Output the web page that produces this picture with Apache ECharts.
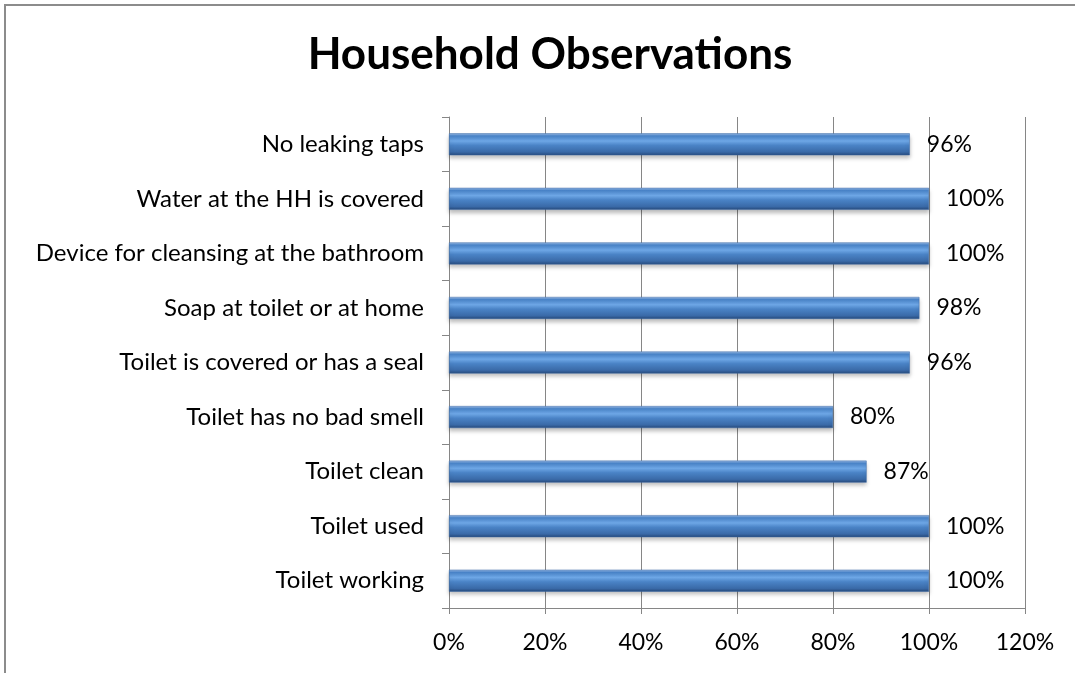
<!DOCTYPE html>
<html>
<head>
<meta charset="utf-8">
<script src="https://cdn.jsdelivr.net/npm/echarts@6/dist/echarts.min.js"></script>
<style>
  html, body { margin: 0; padding: 0; background: #fff; }
  #bar-chart { width: 1075px; height: 673px; }
</style>
</head>
<body>
<div id="bar-chart"></div>
<script>
// top to bottom, as in the picture
const categories = [
  'No leaking taps',
  'Water at the HH is covered',
  'Device for cleansing at the bathroom',
  'Soap at toilet or at home',
  'Toilet is covered or has a seal',
  'Toilet has no bad smell',
  'Toilet clean',
  'Toilet used',
  'Toilet working'
];
const shares = [0.96, 1.00, 1.00, 0.98, 0.96, 0.80, 0.87, 1.00, 1.00];
const xTicks = [0, 0.2, 0.4, 0.6, 0.8, 1.0, 1.2];

const barChart = echarts.init(document.getElementById('bar-chart'), null, {
  renderer: 'canvas'
});

const font = 'Lato, "Liberation Sans", sans-serif';
const pct = v => Math.round(v * 100) + '%';

let option = {
  animation: false,
  title: {
    text: 'Household Observations',
    left: 545,
    textAlign: 'center',
    top: 28,
    textStyle: { fontFamily: font, fontSize: 44, fontWeight: 'bold', color: '#000' }
  },
  graphic: [
    {
      type: 'polyline',
      shape: { points: [[5, 673], [5, 5], [1075, 5]] },
      style: { stroke: '#8c8c8c', lineWidth: 2, fill: null }
    }
  ],
  grid: { left: 449, right: 50, top: 117, bottom: 65 },
  xAxis: {
    type: 'value',
    min: xTicks[0],
    max: xTicks[xTicks.length - 1],
    interval: 0.2,
    axisLine: { show: true, lineStyle: { color: '#868686', width: 1 } },
    axisTick: { show: true, length: 6, lineStyle: { color: '#868686' } },
    splitLine: { show: true, lineStyle: { color: '#868686', width: 1 } },
    axisLabel: {
      margin: 23,
      formatter: pct,
      color: '#000',
      fontFamily: font,
      fontSize: 23
    }
  },
  yAxis: {
    type: 'category',
    inverse: true,
    data: categories,
    axisLine: { show: true, lineStyle: { color: '#868686' } },
    axisTick: { show: true, length: 7, lineStyle: { color: '#868686' } },
    axisLabel: {
      margin: 25,
      color: '#000',
      fontFamily: font,
      fontSize: 24
    }
  },
  series: [
    {
      type: 'bar',
      data: shares,
      barWidth: 22,
      itemStyle: {
        color: new echarts.graphic.LinearGradient(0, 0, 0, 1, [
          { offset: 0, color: '#9dbde6' },
          { offset: 0.12, color: '#4a85cb' },
          { offset: 0.35, color: '#6ea7e6' },
          { offset: 0.55, color: '#4a83c6' },
          { offset: 0.85, color: '#3a6aa8' },
          { offset: 1, color: '#26497a' }
        ]),
        borderColor: '#3a68a6',
        borderWidth: 0.5,
        shadowColor: 'rgba(0,0,0,0.25)',
        shadowBlur: 4,
        shadowOffsetY: 3
      },
      label: {
        show: true,
        position: 'right',
        distance: 17,
        formatter: p => pct(p.value),
        color: '#000',
        fontFamily: font,
        fontSize: 23
      }
    }
  ]
};

window.addEventListener('resize', function () {
  barChart.resize();
});

option && barChart.setOption(option);
</script>
</body>
</html>
